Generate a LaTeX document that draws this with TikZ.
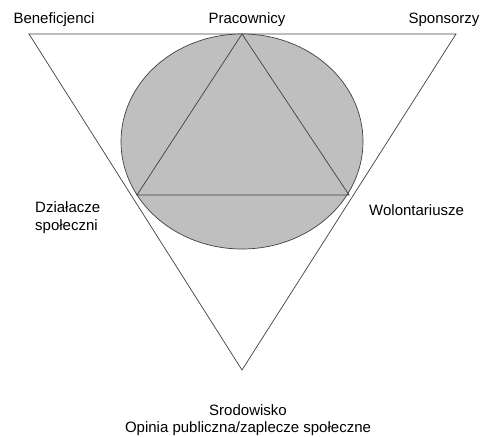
\documentclass[tikz,border=0pt]{standalone}
\usepackage{fontspec}
\setmainfont{Liberation Sans}
\usetikzlibrary{positioning}

\begin{document}
\begin{tikzpicture}[
    x=1pt, y=-1pt,
    line/.style={draw=black!75, line width=0.7pt},
    label/.style={font=\fontsize{15}{18}\selectfont, inner sep=0pt},
  ]
  \useasboundingbox (0,0) rectangle (489,436);
  % outer triangle
  \coordinate (TL) at (29,34);
  \coordinate (TR) at (456,34);
  \coordinate (B) at (242,370);
  % inner triangle
  \coordinate (P) at (242,34);
  \coordinate (L) at (137,195);
  \coordinate (R) at (349,195);
  \draw[line] (TL) -- (TR) -- (B) -- cycle;
  \filldraw[line, fill=black!25] (242,141.5) ellipse [x radius=121, y radius=107.5];
  \draw[line] (P) -- (R) -- (L) -- cycle;

  \node[label] (benef) at (54,20) {Beneficjenci};
  \node[label] (prac) at (247,20) {Pracownicy};
  \node[label] (spons) at (444,20) {Sponsorzy};
  \node[label, align=left, anchor=west] (dzial) at (35,218) {Działacze\\społeczni};
  \node[label, anchor=west] (wolont) at (369,210) {Wolontariusze};
  \node[label] (srod) at (248,410) {Srodowisko};
  \node[label] (opinia) [below=6pt of srod] {Opinia publiczna/zaplecze społeczne};
\end{tikzpicture}
\end{document}
